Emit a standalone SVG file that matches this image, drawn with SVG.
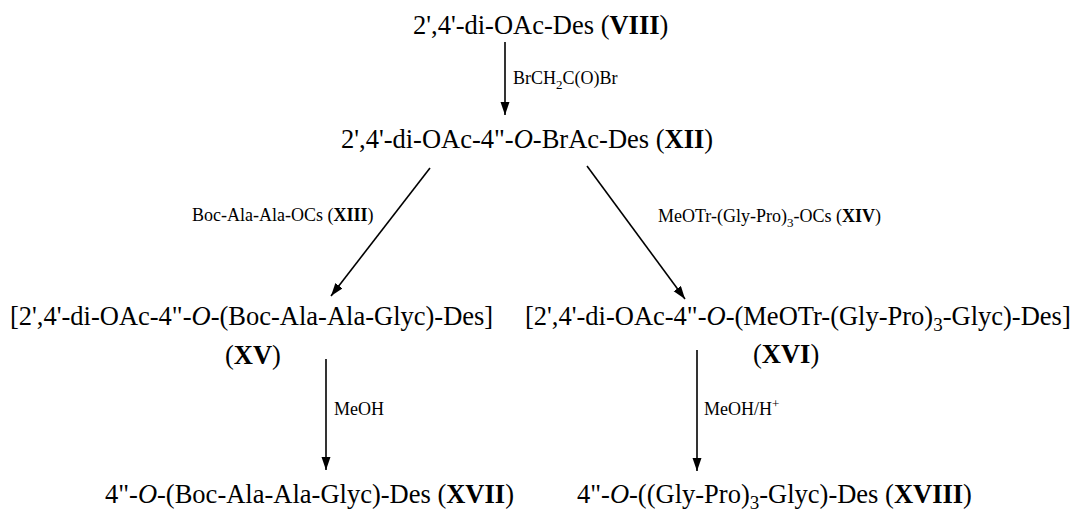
<svg xmlns="http://www.w3.org/2000/svg" width="1071" height="518" viewBox="0 0 1071 518">
<style>
.main{font-family:"Liberation Serif","Times New Roman",serif;font-size:26.5px;fill:#000}
.lbl{font-family:"Liberation Serif","Times New Roman",serif;font-size:18px;fill:#000}
.b{font-weight:bold}
.i{font-style:italic}
.arr{stroke:#000;stroke-width:1.6;fill:none;marker-end:url(#ah)}
</style>
<defs>
<marker id="ah" markerUnits="userSpaceOnUse" markerWidth="14" markerHeight="10" refX="13" refY="4.5" orient="auto">
<path d="M0,0 L13,4.5 L0,9 z" fill="#000"/>
</marker>
</defs>
<rect width="1071" height="518" fill="#fff"/>
<g id="connectors">
<line class="arr" x1="505" y1="42" x2="505" y2="115"/>
<line class="arr" x1="430" y1="168" x2="331" y2="296"/>
<line class="arr" x1="587" y1="166" x2="685" y2="299"/>
<line class="arr" x1="326" y1="359" x2="326" y2="470"/>
<line class="arr" x1="697" y1="350" x2="697" y2="471"/>
<text class="lbl" x="513" y="84">BrCH<tspan font-size="13" dy="5">2</tspan><tspan dy="-5">C(O)Br</tspan></text>
<text class="lbl" x="192" y="221">Boc-Ala-Ala-OCs (<tspan class="b">XIII</tspan>)</text>
<text class="lbl" x="658" y="222">MeOTr-(Gly-Pro)<tspan font-size="13" dy="5">3</tspan><tspan dy="-5">-OCs (</tspan><tspan class="b">XIV</tspan>)</text>
<text class="lbl" x="334" y="415">MeOH</text>
<text class="lbl" x="704" y="415">MeOH/H<tspan font-size="13" dy="-7">+</tspan></text>
</g>
<g id="n-VIII">
<text class="main" x="413" y="34">2',4'-di-OAc-Des (<tspan class="b">VIII</tspan>)</text>
</g>
<g id="n-XII">
<text class="main" x="341" y="148">2',4'-di-OAc-4"-<tspan class="i">O</tspan>-BrAc-Des (<tspan class="b">XII</tspan>)</text>
</g>
<g id="n-XV">
<text class="main" x="10" y="325">[2',4'-di-OAc-4"-<tspan class="i">O</tspan>-(Boc-Ala-Ala-Glyc)-Des]</text>
<text class="main" x="225" y="364">(<tspan class="b">XV</tspan>)</text>
</g>
<g id="n-XVI">
<text class="main" x="525" y="325">[2',4'-di-OAc-4"-<tspan class="i">O</tspan>-(MeOTr-(Gly-Pro)<tspan font-size="19" dy="6">3</tspan><tspan dy="-6">-Glyc)-Des]</tspan></text>
<text class="main" x="753" y="363">(<tspan class="b">XVI</tspan>)</text>
</g>
<g id="n-XVII">
<text class="main" x="105" y="503">4"-<tspan class="i">O</tspan>-(Boc-Ala-Ala-Glyc)-Des (<tspan class="b">XVII</tspan>)</text>
</g>
<g id="n-XVIII">
<text class="main" x="577" y="503">4"-<tspan class="i">O</tspan>-((Gly-Pro)<tspan font-size="19" dy="6">3</tspan><tspan dy="-6">-Glyc)-Des (</tspan><tspan class="b">XVIII</tspan>)</text>
</g>
</svg>
